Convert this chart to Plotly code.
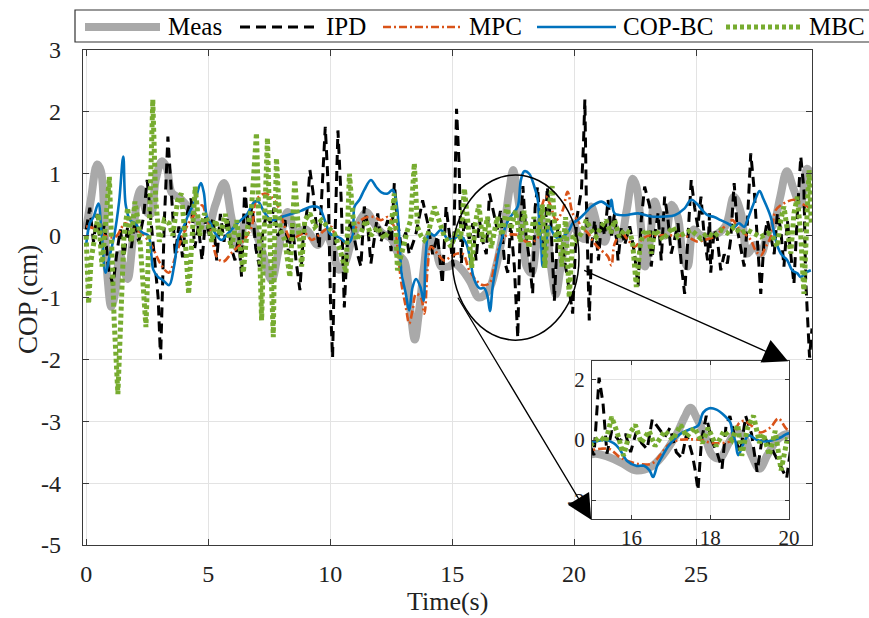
import plotly.graph_objects as go

# ---------------- data (time in s, COP in cm) ----------------
t_meas = [0.0, 0.2, 0.45, 0.6, 0.75, 0.88, 1.03, 1.2, 1.38, 1.55, 1.7, 1.9, 2.1, 2.25, 2.45, 2.65, 2.85,
          3.1, 3.3, 3.5, 3.85, 4.2, 4.6, 4.95, 5.3, 5.65, 5.95, 6.2, 6.6, 7.0, 7.25, 7.6, 7.9, 8.25, 8.6,
          9.0, 9.5, 9.8, 10.1, 10.35, 10.6, 10.9, 11.3, 11.5, 11.8, 12.1, 12.5, 12.8, 13.05, 13.3, 13.47,
          13.65, 13.85, 14.05, 14.3, 14.55, 14.85, 15.1, 15.4, 15.75, 16.1, 16.5, 16.8, 17.15, 17.35, 17.5,
          17.65, 17.85, 18.05, 18.25, 18.45, 18.65, 18.85, 19.05, 19.25, 19.45, 19.7, 19.95, 20.2, 20.45,
          20.7, 21.0, 21.25, 21.5, 21.9, 22.15, 22.4, 22.55, 22.75, 22.9, 23.1, 23.3, 23.5, 23.75, 24.0,
          24.25, 24.45, 24.65, 24.9, 25.2, 25.7, 26.2, 26.55, 26.85, 27.1, 27.4, 27.65, 27.95, 28.2, 28.45,
          28.72, 29.0, 29.28, 29.55, 29.75]
y_meas = [0.1, 0.6, 1.15, 1.05, 0.25, -0.7, -1.15, -0.9, -0.3, -0.55, -0.7, -0.1, 0.6, 0.75, 0.4, 0.35, 0.9,
          1.2, 1.1, 0.7, 0.6, 0.45, 0.2, 0.1, 0.5, 0.85, 0.3, -0.2, 0.3, 0.0, -0.3, -0.72, -0.2, 0.38, 0.05,
          0.1, -0.15, 0.05, -0.2, -0.55, -0.45, -0.05, 0.3, 0.38, 0.2, 0.05, -0.05, -0.3, -0.42, -1.25, -1.68,
          -1.2, -0.5, 0.0, -0.15, -0.5, -0.5, -0.45, -0.55, -0.75, -1.0, -0.88, -0.5, 0.2, 0.75, 1.06,
          0.75, 0.2, -0.5, -0.6, -0.15, 0.25, 0.1, -0.5, -0.95, -0.5, 0.0, 0.2, 0.0, -0.05,
          0.47, 0.1, -0.1, 0.25, -0.05, 0.4, 0.92, 0.8, 0.1, -0.5, -0.1, 0.55, 0.3, 0.0, 0.5,
          0.3, -0.3, -0.5, 0.1, 0.0, 0.0, 0.15, 0.63, 0.35, -0.29, -0.15, -0.3, 0.05, 0.2, 0.63,
          1.04, 0.75, 0.5, 1.08, 0.95]

t_ipd = [0.0, 0.15, 0.3, 0.45, 0.6, 0.75, 0.9, 1.1, 1.25, 1.4, 1.55, 1.7, 1.85, 2.0, 2.15, 2.35, 2.5, 2.65,
         2.8, 2.95, 3.05, 3.2, 3.35, 3.5, 3.65, 3.8, 3.95, 4.1, 4.3, 4.45, 4.6, 4.75, 4.9, 5.05, 5.2, 5.35,
         5.5, 5.65, 5.8, 5.95, 6.1, 6.25, 6.37, 6.5, 6.65, 6.8, 6.95, 7.1, 7.25, 7.4, 7.55, 7.7, 7.85, 8.0,
         8.15, 8.3, 8.45, 8.6, 8.76, 8.9, 9.05, 9.17, 9.3, 9.42, 9.55, 9.65, 9.8, 9.92, 10.02, 10.1, 10.2,
         10.32, 10.45, 10.58, 10.72, 10.85, 10.98, 11.12, 11.26, 11.4, 11.54, 11.67, 11.81, 11.95, 12.08,
         12.36, 12.5, 12.63, 12.76, 12.9, 13.1, 13.24, 13.5, 13.79, 14.0, 14.2, 14.4, 14.6, 14.75, 14.9,
         15.05, 15.18, 15.28, 15.38, 15.5, 15.7, 15.85, 15.98, 16.12, 16.26, 16.4, 16.53, 16.7, 16.85,
         16.98, 17.14, 17.28, 17.4, 17.55, 17.62, 17.69, 17.78, 17.9, 18.03, 18.17, 18.3, 18.4, 18.5,
         18.64, 18.77, 18.9, 19.05, 19.19, 19.33, 19.53, 19.73, 19.94, 20.1, 20.3, 20.38, 20.44, 20.5,
         20.57, 20.62, 20.72, 20.84, 21.0, 21.12, 21.25, 21.39, 21.53, 21.66, 21.8, 21.94, 22.07, 22.28,
         22.48, 22.62, 22.75, 22.89, 23.1, 23.16, 23.3, 23.44, 23.57, 23.71, 23.85, 23.98, 24.12, 24.26,
         24.4, 24.53, 24.67, 24.8, 24.94, 25.07, 25.2, 25.33, 25.47, 25.55, 25.6, 25.74, 25.87, 26.01,
         26.15, 26.28, 26.42, 26.56, 26.69, 26.83, 26.97, 27.1, 27.24, 27.38, 27.52, 27.65, 27.79, 27.92,
         28.06, 28.2, 28.33, 28.47, 28.6, 28.74, 28.88, 29.01, 29.15, 29.29, 29.42, 29.49, 29.56, 29.65,
         29.75]
y_ipd = [0.1, 0.45, -0.1, 0.35, -0.15, 0.2, -0.5, -0.8, -0.3, 0.1, -0.35, 0.15, -0.2, 0.25, -0.1, 0.3, 0.9, 0.3,
         -0.4, -1.0, -2.0, 0.2, 1.6, 0.6, -0.3, 0.15, -0.35, 0.3, 0.6, -0.2, 0.15, -0.4, 0.3, 0.0, 0.3, -0.4,
         0.35, -0.1, 0.3, -0.2, -0.4, 0.0, -0.67, 0.79, 0.1, 0.5, -0.2, -0.5, 0.1, 0.35, 0.2, 0.45, 0.0, 0.1,
         0.25, -0.3, 0.2, -0.4, -0.88, 0.0, 0.4, 1.06, 0.7, 0.2, -0.2, 0.6, 1.76, 0.8, -1.2, -1.97, 0.0,
         1.7, 0.6, -1.16, 0.0, 0.25, 0.0, -0.3, -0.5, 0.47, 0.15, -0.45, -0.05, 0.36, -0.1,
         0.25, -0.25, 0.85, 0.25, -0.15, 0.05, -0.3, 0.0, 0.57, 0.2, -0.3, 0.0, -0.78, 0.47, 0.0,
         -0.5, 2.05, 1.2, -0.45, 0.3, -0.05, 0.2, -0.4, 0.25, -0.1, -0.3, 0.68, 0.35, 0.1,
         0.4, -0.4, -0.6, 0.2, -0.5, -1.0, -1.65, 0.0, 0.8, 0.0, -0.4, -0.94, 0.45, 0.79,
         0.0, -0.4, 0.79, 0.2, -1.05, 0.15, -0.2, -0.7, -1.26, 0.25, 0.74, 1.44, 2.2, 0.6,
         -0.5, -1.37, -0.15, 0.25, -0.4, 0.25, 0.0, 0.58, 0.0, 0.36, -0.4, 0.15, -0.15, 0.15,
         -0.3, -0.83, 0.25, 0.79, 0.47, -0.5, 0.0, 0.36, -0.4, 0.63, 0.25, -0.29, -0.05, 0.2,
         -0.5, -0.94, 0.0, 0.9, 0.45, 0.14, 0.63, 0.0, -0.4, 0.36, -0.6, 0.1, -0.05, -0.56,
         -0.3, -0.45, -0.05, 0.85, 0.1, -0.2, -0.5, 0.2, 1.33, 0.74, -0.05, -0.94, -0.05, 0.25,
         0.0, -0.3, 0.36, 0.1, -0.5, 0.25, -0.3, -0.78, 0.36, 1.28, 0.74, -0.7, -1.26, -1.97,
         -1.5]

t_mpc = [0.0, 0.3, 0.75, 1.2, 1.6, 1.9, 2.3, 2.7, 3.04, 3.38, 3.66, 3.93, 4.2, 4.47, 4.75, 4.9, 5.1, 5.35,
         5.62, 5.96, 6.37, 6.78, 6.98, 7.33, 7.6, 7.87, 8.14, 8.42, 8.7, 8.96, 9.24, 9.51, 9.78, 10.05,
         10.17, 10.45, 10.72, 11.0, 11.26, 11.54, 11.81, 12.08, 12.36, 12.63, 12.76, 12.9, 13.1, 13.24,
         13.38, 13.52, 13.72, 13.86, 14.0, 14.13, 14.4, 14.67, 14.95, 15.22, 15.45, 15.7, 15.98, 16.25,
         16.53, 16.73, 16.94, 17.21, 17.48, 17.76, 18.03, 18.3, 18.57, 18.71, 18.85, 19.05, 19.26, 19.53,
         19.73, 19.94, 20.14, 20.3, 20.57, 20.84, 21.12, 21.39, 21.53, 21.66, 21.94, 22.21, 22.48, 22.75,
         23.03, 23.44, 23.71, 24.12, 24.53, 24.8, 25.07, 25.33, 25.74, 26.15, 26.49, 26.69, 26.97, 27.24,
         27.44, 27.65, 27.85, 28.06, 28.26, 28.47, 28.74, 29.01, 29.29, 29.56, 29.7]
y_mpc = [0.15, 0.12, 0.0, -0.02, 0.2, 0.12, 0.03, -0.18, -0.45, -0.6, -0.34, -0.02, 0.2, 0.36, 0.49, 0.35, 0.1, -0.34,
         -0.42, -0.28, -0.12, 0.14, 0.58, 0.68, 0.62, 0.47, 0.14, -0.07, 0.0, 0.04, -0.07, 0.0, 0.09, 0.14,
         0.04, -0.07, -0.13, 0.09, 0.25, 0.3, 0.3, 0.25, 0.3, 0.14, -0.18, -0.72, -1.15, -1.42,
         -1.2, -0.94, -1.0, -1.26, -0.5, -0.18, -0.29, -0.4, -0.34, -0.29, -0.3, -0.56, -0.72, -0.8,
         -0.77, -0.5, -0.16, 0.0, 0.02, 0.0, -0.1, -0.1, 0.0, 0.52, 0.63, 0.47, 0.25, 0.41,
         0.71, 0.36, 0.25, 0.14, 0.04, -0.13, -0.24, -0.34, -0.48, -0.13, 0.04, -0.07, -0.18, -0.07,
         0.0, 0.0, 0.01, 0.0, 0.0, -0.05, -0.1, -0.07, -0.02, 0.14, 0.25, 0.14, 0.04, -0.07,
         -0.24, -0.32, -0.18, -0.02, 0.41, 0.49, 0.55, 0.58, 0.52, 0.47, 0.41]

t_copbc = [0.0, 0.15, 0.3, 0.5, 0.62, 0.8, 0.95, 1.15, 1.35, 1.52, 1.62, 1.8, 2.0, 2.3, 2.55, 2.75, 2.95, 3.15,
           3.4, 3.6, 3.8, 4.0, 4.2, 4.45, 4.7, 4.82, 4.95, 5.1, 5.3, 5.55, 5.8, 6.2, 6.6, 6.9, 7.05, 7.3, 7.6,
           8.0, 8.4, 8.8, 9.25, 9.55, 9.78, 10.0, 10.2, 10.45, 10.72, 10.92, 11.0, 11.2, 11.4, 11.67, 11.88,
           12.1, 12.36, 12.56, 12.7, 12.83, 12.93, 13.1, 13.24, 13.38, 13.52, 13.7, 13.83, 13.92, 14.06,
           14.27, 14.54, 14.81, 15.08, 15.3, 15.55, 15.7, 15.9, 16.12, 16.32, 16.46, 16.55, 16.66, 16.8,
           16.94, 17.14, 17.3, 17.5, 17.69, 17.82, 17.96, 18.16, 18.37, 18.51, 18.57, 18.64, 18.71, 18.85,
           18.98, 19.19, 19.39, 19.6, 19.8, 19.94, 20.14, 20.44, 20.71, 21.12, 21.46, 21.53, 21.66, 22.07,
           22.62, 23.16, 23.71, 24.12, 24.53, 24.8, 25.07, 25.19, 25.47, 25.74, 26.01, 26.28, 26.56, 26.76,
           26.97, 27.1, 27.31, 27.44, 27.6, 27.75, 28.06, 28.26, 28.47, 28.74, 28.94, 29.15, 29.29, 29.49,
           29.7]
y_copbc = [-0.15, 0.2, 0.3, 0.52, 0.1, -0.6, -0.35, 0.0, 0.55, 1.28, 0.5, 0.25, 0.2, 0.05, 0.0, -0.55, -0.67, -0.72,
           -0.8, -0.5, 0.0, 0.15, 0.35, 0.55, 0.85, 0.7, 0.3, 0.2, 0.03, -0.07, 0.03, 0.2, 0.35, 0.55, 0.55, 0.38, 0.25,
           0.3, 0.35, 0.4, 0.47, 0.45, 0.25, 0.03, 0.0, -0.05, -0.13, 0.0, 0.47, 0.58, 0.74, 0.9, 0.79,
           0.7, 0.68, 0.74, 0.58, 0.0, -0.61, -0.94, -1.21, -0.83, -0.7, -0.83, -1.05, -0.3, 0.04,
           0.0, 0.09, -0.05, -0.05, 0.0, -0.1, -0.3, -0.7, -0.85, -0.85, -1.0, -1.22, -0.83, -0.5,
           -0.2, 0.09, 0.25, 0.36, 0.47, 0.9, 1.04, 1.0, 0.79, 0.58, 0.2, -0.05, -0.5, -0.1,
           0.15, 0.0, -0.05, 0.0, 0.09, 0.2, 0.25, 0.36, 0.47, 0.55, 0.47, 0.58, 0.36, 0.33,
           0.36, 0.31, 0.31, 0.33, 0.44, 0.58, 0.5, 0.44, 0.33, 0.3, 0.25, 0.2, 0.14, 0.2,
           0.14, 0.25, 0.47, 0.6, 0.72, 0.6, 0.3, -0.07, -0.29, -0.4, -0.56, -0.61, -0.67, -0.6,
           -0.56]

t_mbc = [0.0, 0.05, 0.1, 0.2, 0.35, 0.5, 0.65, 0.8, 0.95, 1.05, 1.15, 1.3, 1.45, 1.55, 1.7, 1.85, 2.0, 2.15,
         2.3, 2.45, 2.6, 2.73, 2.85, 3.0, 3.2, 3.4, 3.55, 3.75, 3.9, 4.05, 4.2, 4.33, 4.47, 4.65, 4.85, 5.0,
         5.15, 5.3, 5.5, 5.7, 5.95, 6.17, 6.3, 6.44, 6.6, 6.78, 6.98, 7.08, 7.19, 7.3, 7.43, 7.53, 7.67,
         7.73, 7.8, 7.95, 8.14, 8.35, 8.48, 8.55, 8.7, 8.83, 8.96, 9.17, 9.37, 9.65, 9.9, 10.17, 10.45,
         10.65, 10.79, 10.92, 11.06, 11.26, 11.47, 11.67, 11.95, 12.22, 12.5, 12.63, 12.76, 12.97, 13.17,
         13.3, 13.45, 13.58, 13.72, 13.86, 14.0, 14.27, 14.47, 14.67, 14.95, 15.2, 15.35, 15.5, 15.65,
         15.8, 15.95, 16.1, 16.25, 16.45, 16.6, 16.85, 17.05, 17.25, 17.4, 17.6, 17.8, 17.95, 18.15,
         18.35, 18.55, 18.7, 18.8, 18.95, 19.1, 19.25, 19.35, 19.5, 19.65, 19.8, 19.95, 20.1, 20.3, 20.5,
         20.7, 20.9, 21.1, 21.3, 21.5, 21.66, 21.85, 22.07, 22.3, 22.4, 22.55, 22.7, 22.84, 23.03, 23.16,
         23.3, 23.44, 23.64, 23.85, 24.05, 24.25, 24.5, 24.8, 25.05, 25.2, 25.47, 25.74, 26.01, 26.28,
         26.56, 26.83, 27.1, 27.38, 27.65, 27.95, 28.12, 28.33, 28.47, 28.6, 28.74, 28.88, 29.01, 29.15,
         29.29, 29.36, 29.42, 29.55, 29.63, 29.72]
y_mbc = [0.0, -0.6, -1.1, -0.4, 0.0, 0.35, -0.5, 0.2, 0.95, -0.2, -1.4, -2.56, -0.8, 0.0, 0.45, -0.1, 0.55, 0.2,
         -0.6, -1.48, 0.3, 2.2, 0.6, -0.1, 0.25, 0.2, 0.0, 0.57, 0.68, 0.0, -0.94, -0.2, 0.79, 0.0, 0.36, 0.2,
         -0.1, 0.25, 0.0, 0.35, -0.2, 0.25, -0.2, -0.6, 0.1, 0.47, 1.66, 0.4, -1.37, 0.1, 1.58, 0.0, -1.64,
         0.1, 1.25, 0.1, -0.07, -0.67, 0.36, 0.9, 0.1, -0.5, 0.25, 0.36, 0.14, 0.25, 0.14, 0.04, -0.29,
         -0.6, 1.0, 0.36, -0.07, 0.04, 0.25, 0.0, 0.14, -0.05, 0.14, 0.68, -0.56, -0.18, 0.09,
         0.25, 1.17, 0.14, 0.0, -0.07, 0.0, 0.47, 0.2, 0.0, -0.18, 0.1, -0.05, 0.76, 0.2,
         -0.52, 0.2, 0.5, -0.1, 0.3, -0.2, 0.3, 0.0, 0.5, 0.1, 0.4, -0.1, 0.4, -0.2,
         0.3, 0.0, 0.5, -0.52, 0.4, 0.8, -0.1, 0.2, -0.5, 0.3, -1.0, 0.0, -0.07, 0.04, 0.25,
         0.09, -0.02, 0.14, 0.25, 0.04, 0.25, -0.02, 0.09, 0.04, -0.13, -0.83, -0.18, 0.04, 0.09, -0.29,
         0.09, 0.04, -0.07, 0.04, 0.14, -0.02, 0.04, 0.09, 0.0, -0.05, 0.04, -0.02, 0.09, 0.04,
         0.14, 0.04, 0.09, 0.04, -0.02, 0.04, 0.0, -0.18, 0.25, 0.47, 0.14, -0.29, 0.36, 0.63,
         0.0, -0.5, -0.94, 0.36, 1.06, 0.2]

# tick labels (plain hyphen for negatives)
main_xticks = [0, 5, 10, 15, 20, 25]
main_yticks = [3, 2, 1, 0, -1, -2, -3, -4, -5]
main_yticklabels = ["3", "2", "1", "0", "-1", "-2", "-3", "-4", "-5"]
inset_xticks = [16, 18, 20]
inset_yticks = [-2, 0, 2]
inset_yticklabels = ["-2", "0", "2"]

# zoomed window shown in the inset
zoom_x = [15, 20]
zoom_y = [-1.69, 0.98]

FONT = "Liberation Serif, Times New Roman, serif"
GRID = "#e3e3e3"
AXIS = "#3a3a3a"
TXT = "#222222"

series = [
    ("Meas", t_meas, y_meas, dict(color="#a9a9a9", width=8)),
    ("IPD", t_ipd, y_ipd, dict(color="black", width=3, dash="10px,6px")),
    ("MPC", t_mpc, y_mpc, dict(color="#D95319", width=2.6, dash="8px,3px,2px,3px")),
    ("COP-BC", t_copbc, y_copbc, dict(color="#0072BD", width=2.6)),
    ("MBC", t_mbc, y_mbc, dict(color="#77AC30", width=5, dash="4px,3px")),
]

fig = go.Figure()
for xa, ya in (("x", "y"), ("x2", "y2")):
    for name, t, y, ln in series:
        shape = "linear" if name in ("IPD", "MBC") else "spline"
        fig.add_trace(go.Scatter(x=t, y=y, mode="lines", name=name, line=dict(shape=shape, **ln),
                                 showlegend=False, xaxis=xa, yaxis=ya))

# pixel -> paper helpers for the hand-built legend
W, H = 869, 618
ML, MR, MT, MB = 83, 57, 50, 73
PW, PH = W - ML - MR, H - MT - MB


def px(x):
    return (x - ML) / PW


def py(y):
    return (H - MB - y) / PH


shapes = []
annotations = []

# legend frame and entries
shapes.append(dict(type="rect", xref="paper", yref="paper", x0=px(75), x1=px(880), y0=py(42), y1=py(10),
                   line=dict(color="#333333", width=1.2), fillcolor="white", layer="above"))
legend_pos = [(85, 160, 166), (240, 320, 324), (383, 462, 467), (537, 616, 621), (726, 803, 807)]
for (name, _, _, ln), (a, b, tx) in zip(series, legend_pos):
    shapes.append(dict(type="line", xref="paper", yref="paper", x0=px(a), x1=px(b), y0=py(27), y1=py(27),
                       line=ln, layer="above"))
    annotations.append(dict(text=name, xref="paper", yref="paper", x=px(tx), y=py(27), showarrow=False,
                            xanchor="left", yanchor="middle", font=dict(family=FONT, size=25, color="black")))

# axis titles
annotations.append(dict(text="Time(s)", xref="paper", yref="paper", x=px(447), y=py(601), showarrow=False,
                        xanchor="center", yanchor="middle", font=dict(family=FONT, size=26, color=TXT)))
annotations.append(dict(text="COP (cm)", xref="paper", yref="paper", x=px(28), y=py(300), showarrow=False,
                        textangle=-90, xanchor="center", yanchor="middle",
                        font=dict(family=FONT, size=27, color=TXT)))

# circle around the zoomed window
shapes.append(dict(type="circle", xref="x", yref="y", x0=zoom_x[0], x1=zoom_x[1] + 0.2,
                   y0=zoom_y[0], y1=zoom_y[1], line=dict(color="black", width=1.5), layer="above"))

# arrows from the circle to the inset corners
for (hx, hy, tx, ty) in [(28.77, -2.03, 20.35, -0.55), (20.7, -4.59, 15.2, -0.98)]:
    annotations.append(dict(x=hx, y=hy, ax=tx, ay=ty, xref="x", yref="y", axref="x", ayref="y",
                            text="", showarrow=True, arrowhead=2, arrowsize=3.8, arrowwidth=1.3,
                            arrowcolor="black", standoff=0, startstandoff=0))

axis_common = dict(showline=True, linecolor=AXIS, linewidth=1.2, mirror="ticks", ticks="inside",
                   tickcolor=AXIS, showgrid=True, gridcolor=GRID, gridwidth=1, zeroline=False)

fig.update_layout(
    width=W, height=H,
    margin=dict(l=ML, r=MR, t=MT, b=MB),
    paper_bgcolor="white", plot_bgcolor="rgba(0,0,0,0)",
    font=dict(family=FONT, color=TXT),
    showlegend=False,
    xaxis=dict(domain=[0, 1], range=[-0.13, 29.75], tickvals=main_xticks, ticklen=6,
               tickfont=dict(family=FONT, size=24, color=TXT), ticklabelstandoff=7, **axis_common),
    yaxis=dict(domain=[0, 1], range=[-5, 3], tickvals=main_yticks, ticktext=main_yticklabels, ticklen=6,
               tickfont=dict(family=FONT, size=24, color=TXT), ticklabelstandoff=16, **axis_common),
    xaxis2=dict(domain=[px(592), px(789)], anchor="y2", range=[15, 20], tickvals=inset_xticks, ticklen=4,
                tickfont=dict(family=FONT, size=21, color=TXT), ticklabelstandoff=0, **axis_common),
    yaxis2=dict(domain=[py(519), py(361)], anchor="x2", range=[-2.6, 2.6], tickvals=inset_yticks,
                ticktext=inset_yticklabels, ticklen=4,
                tickfont=dict(family=FONT, size=21, color=TXT), ticklabelstandoff=2, **axis_common),
    shapes=shapes,
    annotations=annotations,
)

fig.write_html("out.html")
